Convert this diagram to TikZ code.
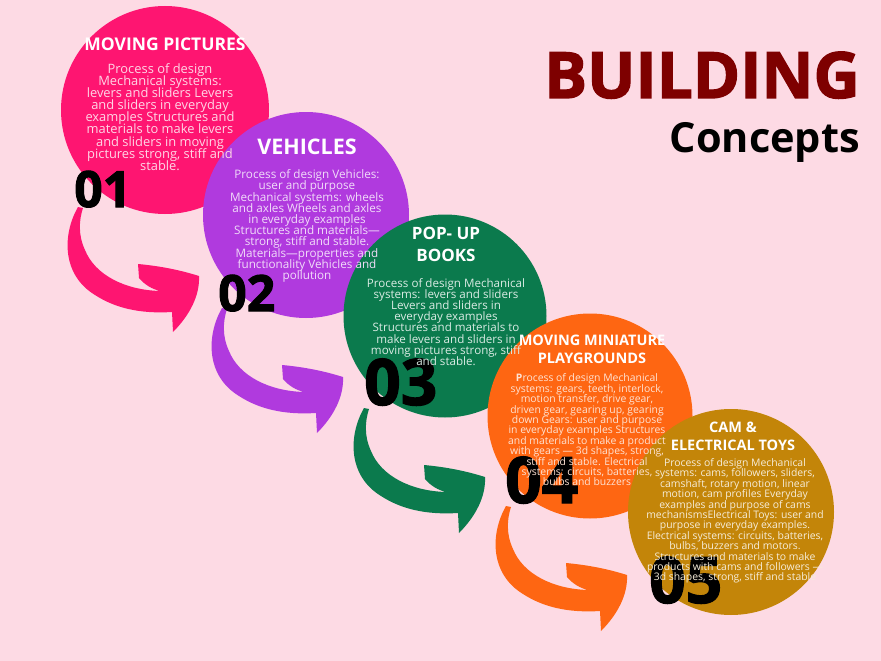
\documentclass[tikz,border=0pt]{standalone}
\usepackage{fontspec}
\setmainfont{Open Sans}
\newfontfamily\heavy[BoldFeatures={FakeBold=2}]{Open Sans}
\definecolor{bg}{HTML}{FDDAE4}
\definecolor{cpink}{HTML}{FE1571}
\definecolor{cpurple}{HTML}{B03ADE}
\definecolor{cgreen}{HTML}{0B7A4D}
\definecolor{corange}{HTML}{FE6612}
\definecolor{cgold}{HTML}{C38509}
\definecolor{maroon}{HTML}{7E0000}
\AtBeginDocument{\setlength{\lineskiplimit}{-30pt}}
\tikzset{
  disc/.style={circle, inner sep=0pt, minimum size=#1},
  ttl/.style={font=\bfseries\fontsize{#1}{#1}\selectfont, text=white, align=center, inner sep=0pt},
  body/.style 2 args={align=center, inner sep=0pt, font=\fontsize{#1}{#2}\selectfont},
  num/.style={font=\heavy\bfseries\fontsize{#1}{#1}\selectfont, anchor=base west, inner sep=0pt, text=black},
  curl/.style={fill=#1},
}
\newcommand\curlpath{(0,0) .. controls (-16,28) and (-16,68) .. (17,88)
  .. controls (37,101) and (62,107) .. (94,105) -- (95,125)
  .. controls (112,108) and (122,88) .. (121,69)
  .. controls (102,63) and (82,59) .. (60,57)
  -- (61,71) .. controls (67,78) and (74,82) .. (82,84)
  .. controls (47,83) and (17,68) .. (7,43)
  .. controls (0,28) and (1,13) .. (5,1) -- cycle}
\begin{document}
\begin{tikzpicture}[x=1pt,y=-1pt]
\fill[bg] (0,0) rectangle (881,661);
\useasboundingbox (0,0) rectangle (881,661);
% circles
\node[disc=208, fill=cpink] (c1) at (165,110) {};
\node[disc=206, fill=cpurple] (c2) at (306,215) {};
\node[disc=203, fill=cgreen] (c3) at (445,316) {};
\node[disc=205, fill=corange] (c4) at (590,416) {};
\node[disc=206, fill=cgold] (c5) at (731,512) {};
% curled arrows
\fill[curl=cpink, shift={(78,207)}] \curlpath;
\fill[curl=cpurple, shift={(222,308)}] \curlpath;
\fill[curl=cgreen, shift={(364,408)}] \curlpath;
\fill[curl=corange, shift={(506,506)}] \curlpath;
% numbers
\node[num=50] (n1) at (74,207) {01};
\node[num=50] (n2) at (218,311) {02};
\node[num=64] (n3) at (364,405) {03};
\node[num=64] (n4) at (505,503) {04};
\node[num=64] (n5) at (649,603) {05};
% titles
\node[ttl=17.5] (t1) at (165,44) {MOVING PICTURES};
\node[ttl=21.5] (t2) at (307,147) {VEHICLES};
\node[ttl=17] (t3a) at (446,233) {POP- UP};
\node[ttl=17] (t3b) at (446,255) {BOOKS};
\node[ttl=14.5] (t4a) at (592,340) {MOVING MINIATURE};
\node[ttl=14.5] (t4b) at (592,358) {PLAYGROUNDS};
\node[ttl=14.5] (t5a) at (733,427) {CAM \&};
\node[ttl=14.5] (t5b) at (733,445) {ELECTRICAL TOYS};
% bodies
\node[body={12.9}{12.1}, text=white!82!cpink] (b1) at (160,117)
 {Process of design\\Mechanical systems:\\levers and sliders Levers\\and sliders in everyday\\examples Structures and\\materials to make levers\\and sliders in moving\\pictures strong, stiff and\\stable.};
\node[body={11.7}{11.2}, text=white!82!cpurple] (b2) at (307,226)
 {Process of design Vehicles:\\user and purpose\\Mechanical systems: wheels\\and axles Wheels and axles\\in everyday examples\\Structures and materials—\\strong, stiff and stable.\\Materials—properties and\\functionality Vehicles and\\pollution};
\node[body={11.6}{11.2}, text=white!85!cgreen] (b3) at (446,322)
 {Process of design Mechanical\\systems: levers and sliders\\Levers and sliders in\\everyday examples\\Structures and materials to\\make levers and sliders in\\moving pictures strong, stiff\\and stable.};
\node[body={10.4}{10.4}, text=white!82!corange] (b4) at (587,430)
 {\textbf{P}rocess of design Mechanical\\systems: gears, teeth, interlock,\\motion transfer, drive gear,\\driven gear, gearing up, gearing\\down Gears: user and purpose\\in everyday examples Structures\\and materials to make a product\\with gears — 3d shapes, strong,\\stiff and stable. Electrical\\systems: circuits, batteries,\\bulbs and buzzers};
\node[body={10.4}{10.4}, text=white!85!cgold] (b5) at (735,521)
 {Process of design Mechanical\\systems: cams, followers, sliders,\\camshaft, rotary motion, linear\\motion, cam profiles Everyday\\examples and purpose of cams\\mechanismsElectrical Toys: user and\\purpose in everyday examples.\\Electrical systems: circuits, batteries,\\bulbs, buzzers and motors.\\Structures and materials to make\\products with cams and followers —\\3d shapes, strong, stiff and stable};
% heading
\node[font=\heavy\bfseries\fontsize{64}{64}\selectfont, text=maroon, anchor=base east, inner sep=0pt] (h1) at (860,98) {BUILDING};
\node[font=\bfseries\fontsize{41.5}{41.5}\selectfont, text=black, anchor=base east, inner sep=0pt] (h2) at (860,152) {Concepts};
\end{tikzpicture}
\end{document}
